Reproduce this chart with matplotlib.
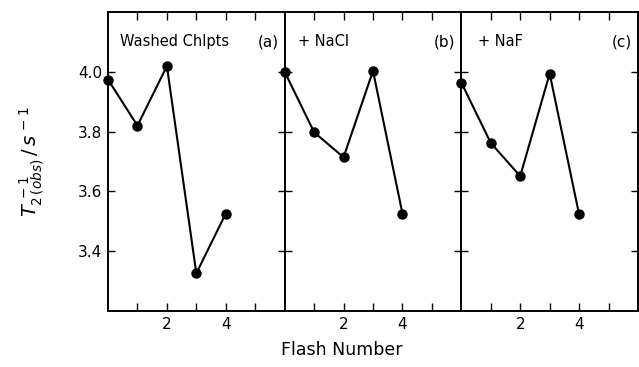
import numpy as np
import matplotlib
matplotlib.use("Agg")
import matplotlib.pyplot as plt

flash = [0, 1, 2, 3, 4]
washed = [3.974, 3.82, 4.019, 3.326, 3.526]
nacl = [4.0, 3.798, 3.714, 4.003, 3.526]
naf = [3.964, 3.762, 3.651, 3.994, 3.523]
series = [washed, nacl, naf]
names = ["Washed Chlpts", "+ NaCl", "+ NaF"]
tags = ["(a)", "(b)", "(c)"]
name_x = [0.4, 0.45, 0.58]

yticks = [3.4, 3.6, 3.8, 4.0]
yticklabels = ["3.4", "3.6", "3.8", "4.0"]
xticks = [1, 2, 3, 4, 5]
xticklabels = ["", "2", "", "4", ""]

plt.rcParams["font.family"] = "DejaVu Sans"
fig = plt.figure(figsize=(6.39, 3.67), dpi=100)

left, right = 108 / 639, 638 / 639
bottom, top = 1 - 311 / 367, 1 - 12 / 367
w = (right - left) / 3

for i, ys in enumerate(series):
    ax = fig.add_axes([left + i * w, bottom, w, top - bottom])
    ax.plot(flash, ys, "-o", color="black", lw=1.5, ms=6.5, clip_on=False, zorder=3)
    ax.set_xlim(0, 6)
    ax.set_ylim(3.2, 4.2)
    ax.set_xticks(xticks)
    ax.set_xticklabels(xticklabels, fontsize=11)
    ax.set_yticks(yticks)
    if i == 0:
        ax.set_yticklabels(yticklabels, fontsize=11)
    else:
        ax.set_yticklabels([])
    ax.tick_params(direction="in", top=True, right=True, length=6, width=1, pad=4)
    ax.tick_params(axis="y", length=5)
    for s in ax.spines.values():
        s.set_linewidth(1.4)
    ax.text(name_x[i], 4.1, names[i], fontsize=10.5, va="center", ha="left")
    ax.text(5.8, 4.1, tags[i], fontsize=11, va="center", ha="right")

fig.text(0.05, 0.56, r"$T^{\,-1}_{2\,(obs)}\,/\,s^{\,-1}$", rotation=90,
         fontsize=14, ha="center", va="center")
fig.text(342 / 639, 1 - 350 / 367, "Flash Number", fontsize=12.5,
         ha="center", va="center")

fig.savefig("out.png", dpi=100)
